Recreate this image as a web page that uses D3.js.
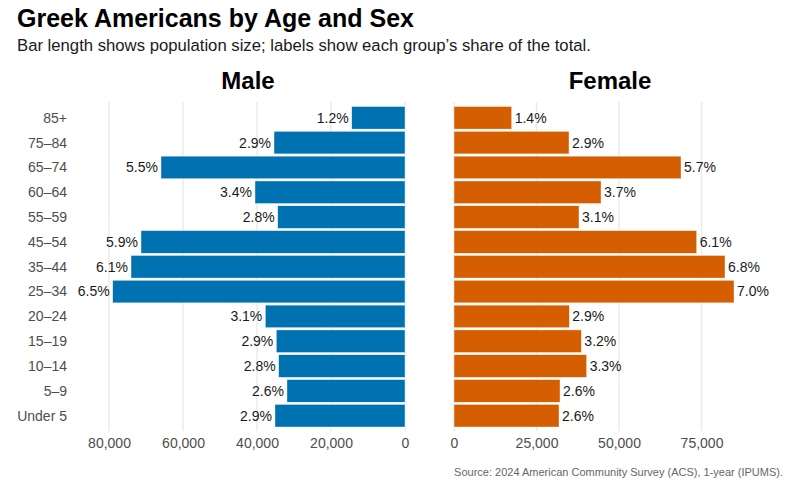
<!DOCTYPE html>
<html><head><meta charset="utf-8">
<script src="https://cdn.jsdelivr.net/npm/d3@7/dist/d3.min.js"></script>
<style>body{margin:0;background:#fff}svg{display:block;font-family:"Liberation Sans",Arial,sans-serif}</style>
</head><body><svg id="c" width="800" height="486"></svg>
<script>
const ageGroups = ["85+","75–84","65–74","60–64","55–59","45–54","35–44","25–34","20–24","15–19","10–14","5–9","Under 5"];
const maleValues = [14400,35400,65950,40540,34400,71350,74050,79000,37750,34780,34140,31900,35140];
const femaleValues = [17480,34850,68790,44550,37880,73540,82120,84850,34950,38590,40200,32120,31820];
const maleShares = ["1.2%","2.9%","5.5%","3.4%","2.8%","5.9%","6.1%","6.5%","3.1%","2.9%","2.8%","2.6%","2.9%"];
const femaleShares = ["1.4%","2.9%","5.7%","3.7%","3.1%","6.1%","6.8%","7.0%","2.9%","3.2%","3.3%","2.6%","2.6%"];
const maleTicks = [80000,60000,40000,20000,0];
const femaleTicks = [0,25000,50000,75000];

const svg = d3.select("#c");
const y = d3.scaleBand().domain(ageGroups).range([105.5,428]).paddingInner(0.09).paddingOuter(0.04);
const xM = d3.scaleLinear().domain([0,80000]).range([405,109]);
const xF = d3.scaleLinear().domain([0,75000]).range([454,701.5]);
const fmt = d3.format(",");
const gTop = 102, gBot = 431;

// title
svg.append("text").attr("x",17).attr("y",26.5).attr("font-size",25).attr("font-weight","bold").attr("fill","#000").text("Greek Americans by Age and Sex");
svg.append("text").attr("x",17).attr("y",51).attr("font-size",16.7).attr("fill","#1a1a1a").text("Bar length shows population size; labels show each group’s share of the total.");

// panel titles
svg.append("text").attr("x",248).attr("y",88.5).attr("text-anchor","middle").attr("font-size",24).attr("font-weight","bold").text("Male");
svg.append("text").attr("x",610).attr("y",88.5).attr("text-anchor","middle").attr("font-size",24).attr("font-weight","bold").text("Female");

// gridlines
svg.append("g").selectAll("line").data(maleTicks).join("line")
  .attr("x1",d=>xM(d)).attr("x2",d=>xM(d)).attr("y1",gTop).attr("y2",gBot)
  .attr("stroke","#ebebeb").attr("stroke-width",1.5);
svg.append("g").selectAll("line").data(femaleTicks).join("line")
  .attr("x1",d=>xF(d)).attr("x2",d=>xF(d)).attr("y1",gTop).attr("y2",gBot)
  .attr("stroke","#ebebeb").attr("stroke-width",1.5);

// bars
const male = ageGroups.map((a,i)=>({a,v:maleValues[i],s:maleShares[i]}));
const female = ageGroups.map((a,i)=>({a,v:femaleValues[i],s:femaleShares[i]}));
svg.append("g").selectAll("rect").data(male).join("rect")
  .attr("x",d=>xM(d.v)).attr("width",d=>xM(0)-xM(d.v))
  .attr("y",d=>y(d.a)).attr("height",y.bandwidth())
  .attr("fill","#0072B2").attr("stroke","#ffffff").attr("stroke-width",0.4);
svg.append("g").selectAll("rect").data(female).join("rect")
  .attr("x",xF(0)).attr("width",d=>xF(d.v)-xF(0))
  .attr("y",d=>y(d.a)).attr("height",y.bandwidth())
  .attr("fill","#D55E00").attr("stroke","#ffffff").attr("stroke-width",0.4);

// share labels
svg.append("g").selectAll("text").data(male).join("text")
  .attr("x",d=>xM(d.v)-3).attr("y",d=>y(d.a)+y.bandwidth()/2).attr("dy","0.35em")
  .attr("text-anchor","end").attr("font-size",14).attr("fill","#1a1a1a").text(d=>d.s);
svg.append("g").selectAll("text").data(female).join("text")
  .attr("x",d=>xF(d.v)+3).attr("y",d=>y(d.a)+y.bandwidth()/2).attr("dy","0.35em")
  .attr("text-anchor","start").attr("font-size",14).attr("fill","#1a1a1a").text(d=>d.s);

// y axis labels
svg.append("g").selectAll("text").data(ageGroups).join("text")
  .attr("x",67).attr("y",d=>y(d)+y.bandwidth()/2).attr("dy","0.35em")
  .attr("text-anchor","end").attr("font-size",14).attr("fill","#4d4d4d").text(d=>d);

// x axes
const axM = svg.append("g").attr("transform",`translate(0,${gBot})`)
  .call(d3.axisBottom(xM).tickValues(maleTicks).tickFormat(fmt).tickSize(0).tickPadding(7));
const axF = svg.append("g").attr("transform",`translate(0,${gBot})`)
  .call(d3.axisBottom(xF).tickValues(femaleTicks).tickFormat(fmt).tickSize(0).tickPadding(7));
[axM,axF].forEach(a=>{
  a.select(".domain").remove();
  a.selectAll("text").attr("font-size",14).attr("fill","#4d4d4d").attr("font-family","Liberation Sans, Arial, sans-serif");
});

// caption
svg.append("text").attr("x",783).attr("y",476).attr("text-anchor","end").attr("font-size",11).attr("fill","#666").text("Source: 2024 American Community Survey (ACS), 1-year (IPUMS).");
</script></body></html>
